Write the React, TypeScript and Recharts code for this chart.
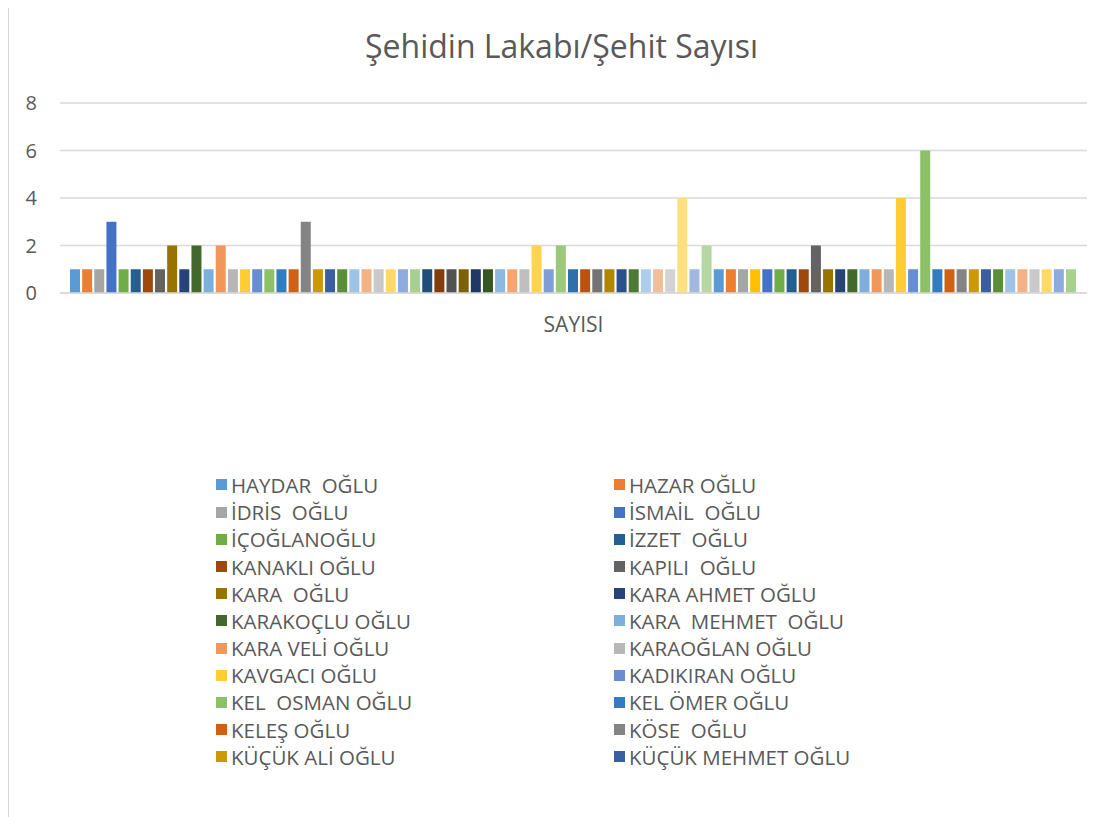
import React from 'react';
import { BarChart, Bar, XAxis, YAxis, CartesianGrid, Legend } from 'recharts';

const chartTitle = 'Şehidin Lakabı/Şehit Sayısı';
const categories = ['SAYISI'];
const yTicks = [0, 2, 4, 6, 8];

const legendNames = [
  'HAYDAR  OĞLU', 'HAZAR OĞLU', 'İDRİS  OĞLU', 'İSMAİL  OĞLU', 'İÇOĞLANOĞLU', 'İZZET  OĞLU',
  'KANAKLI OĞLU', 'KAPILI  OĞLU', 'KARA  OĞLU', 'KARA AHMET OĞLU', 'KARAKOÇLU OĞLU',
  'KARA  MEHMET  OĞLU', 'KARA VELİ OĞLU', 'KARAOĞLAN OĞLU', 'KAVGACI OĞLU', 'KADIKIRAN OĞLU',
  'KEL  OSMAN OĞLU', 'KEL ÖMER OĞLU', 'KELEŞ OĞLU', 'KÖSE  OĞLU', 'KÜÇÜK ALİ OĞLU', 'KÜÇÜK MEHMET OĞLU',
];

const seriesValues = [
  1, 1, 1, 3, 1, 1, 1, 1, 2, 1,
  2, 1, 2, 1, 1, 1, 1, 1, 1, 3,
  1, 1, 1, 1, 1, 1, 1, 1, 1, 1,
  1, 1, 1, 1, 1, 1, 1, 1, 2, 1,
  2, 1, 1, 1, 1, 1, 1, 1, 1, 1,
  4, 1, 2, 1, 1, 1, 1, 1, 1, 1,
  1, 2, 1, 1, 1, 1, 1, 1, 4, 1,
  6, 1, 1, 1, 1, 1, 1, 1, 1, 1,
  1, 1, 1,
];

const seriesColors = [
  '#5B9BD5', '#ED7D31', '#A5A5A5', '#4472C4', '#70AD47', '#255E91', '#9E480E', '#636363', '#997300', '#264478',
  '#43682B', '#7CAFDD', '#F1975A', '#B7B7B7', '#FFCD33', '#698ED0', '#8CC168', '#327DC2', '#D26012', '#848484',
  '#CC9A00', '#3A5FA0', '#5A8F3A', '#9DC3E6', '#F4B183', '#C9C9C9', '#FFD966', '#8FAADC', '#A9D18E', '#1F4E79',
  '#843C0C', '#525252', '#7F6000', '#203864', '#375623', '#8DB8E0', '#F3A673', '#BFBFBF', '#FFD44D', '#7F9DD6',
  '#9CC87C', '#2E6FAC', '#BA5311', '#747474', '#B08600', '#2C4E8C', '#4E7A33', '#AECDEA', '#F5BE9A', '#D3D3D3',
  '#FFDF80', '#A3B7E1', '#B6D7A1', '#5B9BD5', '#ED7D31', '#A5A5A5', '#FFC000', '#4472C4', '#70AD47', '#255E91',
  '#9E480E', '#636363', '#997300', '#264478', '#43682B', '#7CAFDD', '#F1975A', '#B7B7B7', '#FFCD33', '#698ED0',
  '#8CC168', '#327DC2', '#D26012', '#848484', '#CC9A00', '#3A5FA0', '#5A8F3A', '#9DC3E6', '#F4B183', '#C9C9C9',
  '#FFD966', '#8FAADC', '#A9D18E',
];

const seriesNames = seriesValues.map((_, i) => legendNames[i] ?? `Seri ${i + 1}`);

const data = categories.map((c) => {
  const row: Record<string, any> = { category: c };
  seriesValues.forEach((v, i) => {
    row[`s${i}`] = v;
  });
  return row;
});

const FONT = '"Open Sans", sans-serif';
const TEXT = '#595959';
const GRID = '#D9D9D9';

function LegendContent(props: any) {
  const payload = props.payload || [];
  const items = legendNames
    .map((_, i) => payload.find((p: any) => p.dataKey === `s${i}`))
    .filter(Boolean);
  return (
    <div
      style={{
        display: 'grid',
        gridTemplateColumns: '398px 330px',
        fontFamily: FONT,
        fontSize: 20.5,
        color: TEXT,
      }}
    >
      {items.map((it: any, i: number) => (
        <div
          key={i}
          style={{ height: 27.2, display: 'flex', alignItems: 'center', whiteSpace: 'pre' }}
        >
          <span
            style={{ width: 11, height: 11, background: it.color, marginRight: 4, flex: 'none' }}
          />
          <span>{it.value}</span>
        </div>
      ))}
    </div>
  );
}

export default function App() {
  return (
    <div
      style={{
        position: 'relative',
        marginTop: -4,
        width: 1107,
        height: 830,
        border: `1.3px solid ${GRID}`,
        background: '#fff',
      }}
    >
      <BarChart
        width={1107}
        height={830}
        data={data}
        margin={{ top: 98, right: 29, bottom: 512, left: 0 }}
        barCategoryGap={10}
        barGap={2.146}
      >
        <text
          x={552.5}
          y={53}
          textAnchor="middle"
          fontFamily={FONT}
          fontSize={32}
          fill={TEXT}
        >
          {chartTitle}
        </text>
        <CartesianGrid vertical={false} stroke={GRID} strokeWidth={1.3} />
        <XAxis
          dataKey="category"
          axisLine={{ stroke: GRID, strokeWidth: 1.3 }}
          tickLine={false}
          tickSize={0}
          tickMargin={24}
          height={30}
          tick={{ fill: TEXT, fontSize: 21, fontFamily: FONT }}
        />
        <YAxis
          domain={[0, 8]}
          ticks={yTicks}
          interval={0}
          axisLine={false}
          tickLine={false}
          tickSize={0}
          tickMargin={23}
          width={51}
          tick={{ fill: TEXT, fontSize: 20, fontFamily: FONT }}
        />
        <Legend
          content={<LegendContent />}
          wrapperStyle={{ top: 466.4, left: 207, bottom: 'auto', right: 'auto', width: 760, height: 0, overflow: 'visible' }}
        />
        {seriesValues.map((_, i) => (
          <Bar
            key={i}
            dataKey={`s${i}`}
            name={seriesNames[i]}
            fill={seriesColors[i]}
            isAnimationActive={false}
          />
        ))}
      </BarChart>
    </div>
  );
}
